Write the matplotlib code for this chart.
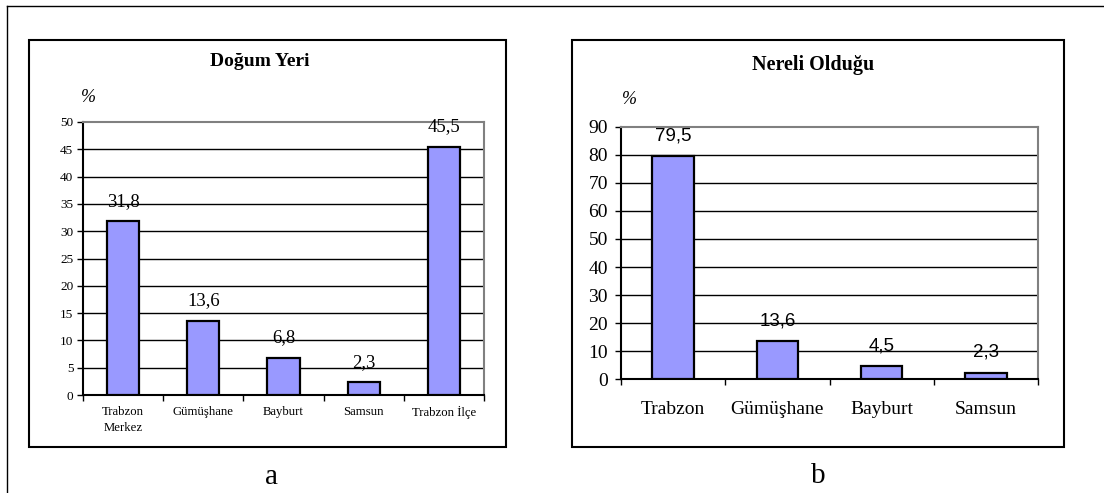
import matplotlib
matplotlib.use("Agg")
import matplotlib.pyplot as plt
from matplotlib.patches import Rectangle
from matplotlib.lines import Line2D
import numpy as np

# Data
birth_categories = ["Trabzon\nMerkez", "Gümüşhane", "Bayburt", "Samsun", "Trabzon İlçe"]
birth_values = [31.8, 13.6, 6.8, 2.3, 45.5]
birth_ticks = [0, 5, 10, 15, 20, 25, 30, 35, 40, 45, 50]

origin_categories = ["Trabzon", "Gümüşhane", "Bayburt", "Samsun"]
origin_values = [79.5, 13.6, 4.5, 2.3]
origin_ticks = [0, 10, 20, 30, 40, 50, 60, 70, 80, 90]

SERIF = "Liberation Serif"
SANS = "Liberation Sans"
BAR_COLOR = "#9999FF"
BORDER_GREY = "#808080"

W, H = 1104, 493
fig = plt.figure(figsize=(W / 100, H / 100), dpi=100)
fig.patch.set_facecolor("white")


def px_rect(x0, y0, x1, y1):
    """Convert a pixel box (top-left origin) to figure coordinates."""
    return [x0 / W, (H - y1) / H, (x1 - x0) / W, (y1 - y0) / H]


def fx(x):
    return x / W


def fy(y):
    return (H - y) / H


# Outer frame
fig.add_artist(Line2D([fx(7), fx(7)], [fy(6), 0], color="black", lw=1.0))
fig.add_artist(Line2D([fx(7), 1], [fy(6), fy(6)], color="black", lw=1.0))

# Chart boxes
for box in [(29, 40, 506, 447), (572, 40, 1064, 447)]:
    x0, y0, x1, y1 = box
    fig.add_artist(Rectangle((fx(x0), fy(y1)), fx(x1 - x0), (y1 - y0) / H,
                             fill=False, edgecolor="black", lw=1.5))


def bar_panel(rect, categories, values, ticks, ymax, tick_fs, xlabel_fs,
              value_fs, value_family, ypad, xpad):
    ax = fig.add_axes(rect)
    n = len(categories)
    x = np.arange(n)
    ax.bar(x, values, width=0.4, color=BAR_COLOR, edgecolor="black",
           linewidth=1.6, zorder=3)
    ax.set_xlim(-0.5, n - 0.5)
    ax.set_ylim(0, ymax)
    ax.set_yticks(ticks)
    ax.set_yticklabels([str(t) for t in ticks])
    ax.set_xticks(x)
    ax.set_xticklabels(categories, linespacing=1.4)
    for lbl in ax.get_yticklabels():
        lbl.set_fontfamily(SERIF)
        lbl.set_fontsize(tick_fs)
    for lbl in ax.get_xticklabels():
        lbl.set_fontfamily(SERIF)
        lbl.set_fontsize(xlabel_fs)
    ax.set_xticks(np.arange(n + 1) - 0.5, minor=True)
    ax.tick_params(axis="x", which="major", length=0, pad=xpad)
    ax.tick_params(axis="x", which="minor", length=4, width=1, direction="out")
    ax.tick_params(axis="y", length=4, width=1, direction="out", pad=ypad)
    for t in ticks[1:-1]:
        ax.axhline(t, color="black", lw=1.0, zorder=1)
    ax.spines["left"].set_color("black")
    ax.spines["bottom"].set_color("black")
    ax.spines["top"].set_color(BORDER_GREY)
    ax.spines["right"].set_color(BORDER_GREY)
    for s in ax.spines.values():
        s.set_linewidth(1.5)
    for xi, v in zip(x, values):
        ax.annotate(str(v).replace(".", ","), (xi, v), xytext=(0, 14.5),
                    textcoords="offset points", ha="center", va="center",
                    fontfamily=value_family, fontsize=value_fs, zorder=4)
    return ax


bar_panel(px_rect(83, 122, 484, 395), birth_categories, birth_values,
          birth_ticks, 50, 9.5, 9.2, 13.5, SERIF, 3, 8)
bar_panel(px_rect(621, 127, 1038, 379), origin_categories, origin_values,
          origin_ticks, 90, 14, 14, 13.5, SANS, 5.5, 16)

# Titles, unit markers and panel letters
fig.text(fx(260), fy(62), "Doğum Yeri", ha="center", va="center",
         fontfamily=SERIF, fontweight="bold", fontsize=14)
fig.text(fx(813), fy(65), "Nereli Olduğu", ha="center", va="center",
         fontfamily=SERIF, fontweight="bold", fontsize=14.5)
fig.text(fx(88), fy(97), "%", ha="center", va="center",
         fontfamily=SERIF, fontstyle="italic", fontsize=13)
fig.text(fx(629), fy(100), "%", ha="center", va="center",
         fontfamily=SERIF, fontstyle="italic", fontsize=13)
fig.text(fx(272), fy(477), "a", ha="center", va="center",
         fontfamily=SERIF, fontsize=21)
fig.text(fx(818), fy(476), "b", ha="center", va="center",
         fontfamily=SERIF, fontsize=21)

fig.savefig("out.png", dpi=100, facecolor="white")
